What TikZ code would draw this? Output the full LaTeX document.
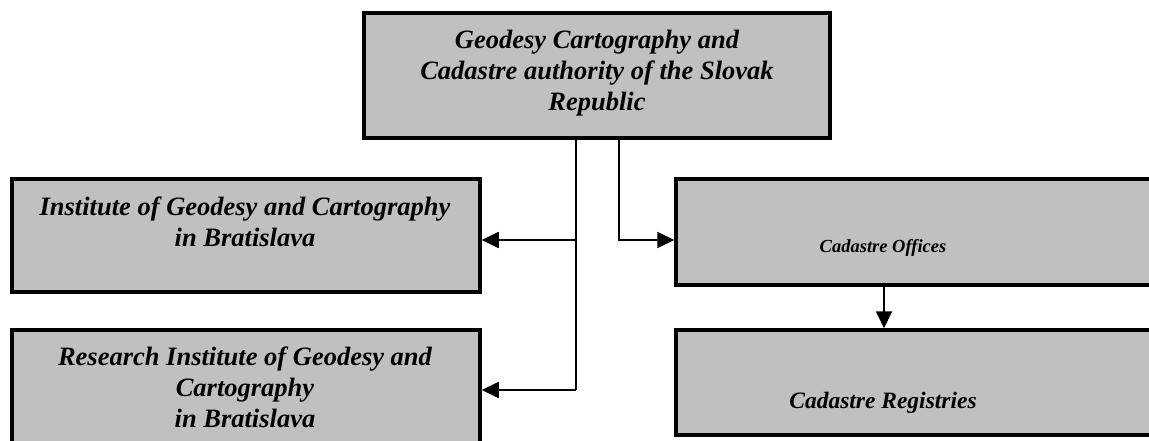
\documentclass[tikz,border=0pt]{standalone}
\usepackage{fontspec}
\setmainfont{Liberation Serif}
\usetikzlibrary{arrows.meta,positioning}
\definecolor{boxgray}{RGB}{192,192,192}

\begin{document}
\begin{tikzpicture}[x=1pt, y=-1pt,
    box/.style={draw, line width=3.5pt, fill=boxgray, inner sep=0pt},
    boxtext/.style={align=center, inner sep=0pt, font=\fontsize{26.5}{31}\selectfont\bfseries\itshape},
    link/.style={line width=1.8pt},
    arrow/.style={-{Triangle[length=17pt,width=16pt]}, line width=1.8pt}
]
    \clip (0,0) rectangle (1149,441);

    \node[box, minimum width=466pt, minimum height=125pt] (gcca) at (597,75.5) {};
    \node[box, minimum width=468pt, minimum height=113pt] (igc) at (246,235.5) {};
    \node[box, minimum width=468pt, minimum height=130pt] (rigc) at (246,395) {};
    \node[box, minimum width=499pt, minimum height=106pt] (offices) at (925.5,232) {};
    \node[box, minimum width=499pt, minimum height=105pt] (registries) at (925.5,382.5) {};

    \node[boxtext] (gccatext) at (597,73.5) {Geodesy Cartography and\\Cadastre authority of the Slovak\\Republic};
    \node[boxtext] (igctext) at (245,221.4) {Institute of Geodesy and Cartography\\in Bratislava};
    \node[boxtext] (rigctext) at (245,387.4) {Research Institute of Geodesy and\\Cartography\\in Bratislava};
    \node[boxtext, anchor=base, font=\fontsize{18.5}{22}\selectfont\bfseries\itshape] (officestext) at (883,252) {Cadastre Offices};
    \node[boxtext, anchor=base, font=\fontsize{23.5}{28}\selectfont\bfseries\itshape] (registriestext) at (883,408) {Cadastre Registries};

    \coordinate (fork) at (576,240);
    \coordinate (forkend) at (576,390);
    \coordinate (bend) at (619,240);
    \coordinate (drop) at (884,300);

    \draw[link] (gcca.south -| fork) -- (forkend);
    \draw[arrow] (fork) -- (igc.east |- fork);
    \draw[arrow] (forkend) -- (rigc.east |- forkend);
    \draw[arrow] (gcca.south -| bend) -- (bend) -- (offices.west |- bend);
    \draw[arrow] (offices.south -| drop) -- (registries.north -| drop);
\end{tikzpicture}
\end{document}
